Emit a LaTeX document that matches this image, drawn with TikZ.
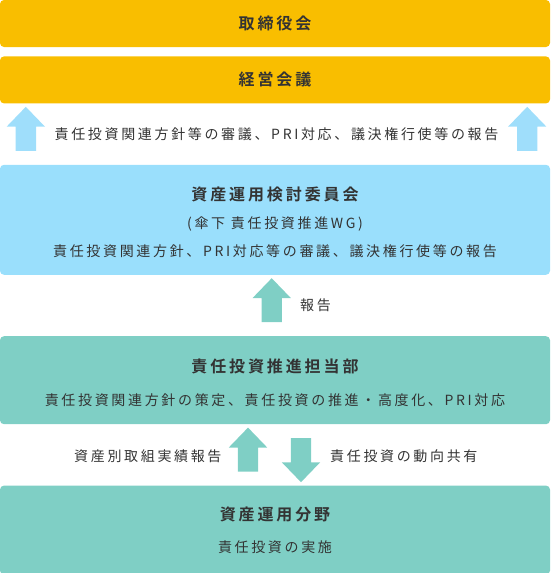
\documentclass[tikz,border=0pt]{standalone}
\usepackage{fontspec}
\setmainfont{Noto Sans CJK JP}
\newfontfamily\jpbody[LetterSpace=19]{Noto Sans CJK JP}
\newfontfamily\jphead[LetterSpace=18,UprightFont=* Bold]{Noto Sans CJK JP}
\usetikzlibrary{shapes.arrows,positioning,calc}
\definecolor{cBoard}{HTML}{F9BE00}
\definecolor{cComm}{HTML}{9ADFFC}
\definecolor{cDept}{HTML}{7FCFC5}
\definecolor{cArrBlue}{HTML}{9FDEFB}
\definecolor{cArrTeal}{HTML}{7FCFC5}
\definecolor{cInk}{HTML}{333333}
\newcommand{\boxhead}[1]{{\jphead\fontsize{16}{20}\selectfont #1}}
\newcommand{\headstrut}{\rule{0pt}{18pt}}

\begin{document}
\begin{tikzpicture}[x=1pt,y=-1pt,text=cInk,
  font=\jpbody\fontsize{14}{28}\selectfont,
  box/.style={rounded corners=4pt,minimum width=550pt,inner sep=0pt,align=center},
  board/.style={box,fill=cBoard,minimum height=47pt},
  comm/.style={box,fill=cComm,minimum height=110pt},
  dept/.style={box,fill=cDept,minimum height=88pt},
  blockarrow/.style={single arrow,inner xsep=0pt,inner ysep=10pt,minimum height=44pt,minimum width=38pt,
    single arrow head extend=9pt,single arrow tip angle=88},
  blockup/.style={blockarrow,rotate=90},
  blockdown/.style={blockarrow,rotate=-90},
  lab/.style={inner sep=0pt}]
  \useasboundingbox (0,0) rectangle (550,573);
  % boxes, top to bottom
  \node[board] (board) at (275,23.5) {\boxhead{取締役会}};
  \node[board,below=9pt of board] (exec) {\boxhead{経営会議}};
  \node[comm,below=61pt of exec] (comm) {\headstrut\boxhead{資産運用検討委員会}\\(傘下 責任投資推進WG)\\責任投資関連方針、PRI対応等の審議、議決権行使等の報告};
  \node[dept,below=61pt of comm] (dept) {\headstrut\boxhead{責任投資推進担当部}\\[5pt]責任投資関連方針の策定、責任投資の推進・高度化、PRI対応};
  \node[dept,minimum height=89pt,below=61pt of dept] (field) {\boxhead{資産運用分野}\\[4pt]責任投資の実施};
  % committee -> management meeting
  \node[blockup,fill=cArrBlue] (upL) at ($(exec.south west)!.5!(comm.north west)+(26,0)$) {};
  \node[blockup,fill=cArrBlue] (upR) at ($(exec.south east)!.5!(comm.north east)+(-23,0)$) {};
  \node[lab] (repTop) at ($(upL)!.5!(upR)$) {責任投資関連方針等の審議、PRI対応、議決権行使等の報告};
  % department -> committee
  \node[blockup,fill=cArrTeal] (upMid) at ($(comm.south)!.5!(dept.north)+(-3.3,0)$) {};
  \node[lab,anchor=west] (repMid) at ($(upMid)+(28.3,0)$) {報告};
  % field <-> department
  \node[blockup,fill=cArrTeal] (upLow) at ($(dept.south)!.5!(field.north)+(-27,0)$) {};
  \node[blockdown,fill=cArrTeal] (downLow) at ($(dept.south)!.5!(field.north)+(26,0)$) {};
  \node[lab,anchor=east] (repLow) at ($(upLow)+(-26.3,1)$) {資産別取組実績報告};
  \node[lab,anchor=west] (shareLow) at ($(downLow)+(29,1)$) {責任投資の動向共有};
\end{tikzpicture}
\end{document}
